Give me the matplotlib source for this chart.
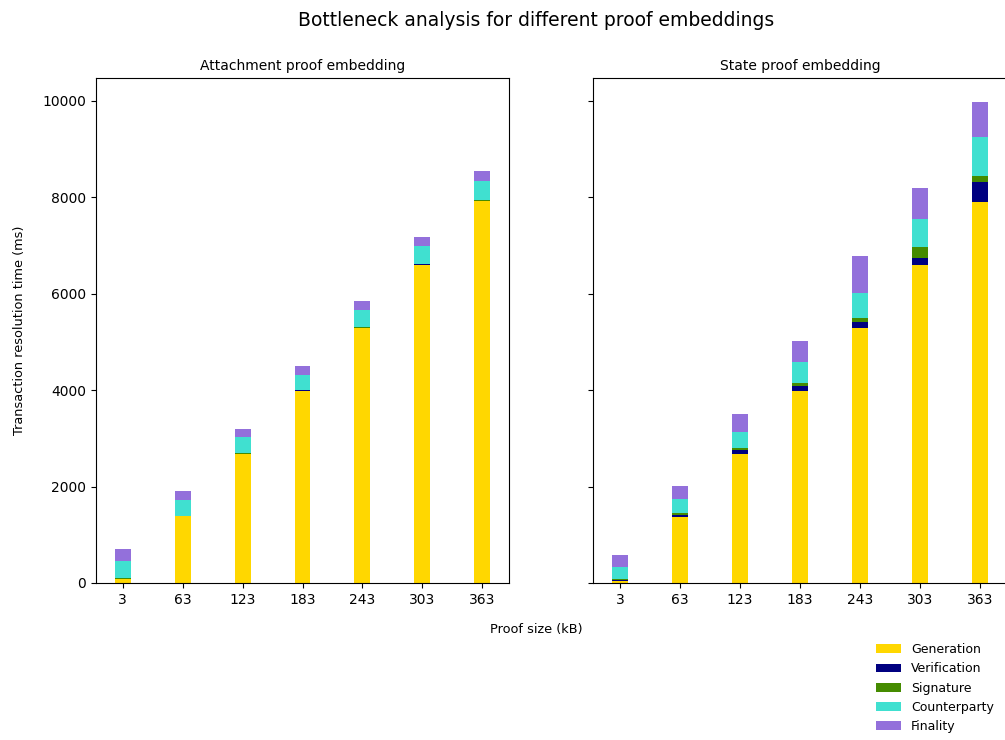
import matplotlib
matplotlib.use("Agg")
import matplotlib.pyplot as plt
import numpy as np

proof_sizes = [3, 63, 123, 183, 243, 303, 363]
stages = ["Generation", "Verification", "Signature", "Counterparty", "Finality"]
colors = ["#FFD700", "#000080", "#458B00", "#40E0D0", "#9370DB"]

# Attachment proof embedding (ms)
att_generation = [80, 1380, 2680, 3990, 5280, 6600, 7920]
att_verification = [5, 5, 5, 15, 15, 10, 10]
att_signature = [10, 12, 5, 5, 5, 5, 5]
att_counterparty = [360, 325, 340, 305, 365, 375, 400]
att_finality = [250, 190, 170, 185, 190, 190, 210]

# State proof embedding (ms)
st_generation = [50, 1375, 2670, 3980, 5290, 6590, 7905]
st_verification = [20, 35, 85, 105, 125, 160, 415]
st_signature = [15, 35, 40, 70, 90, 220, 130]
st_counterparty = [255, 290, 345, 430, 505, 580, 790]
st_finality = [240, 275, 360, 435, 775, 640, 735]

attachment = [att_generation, att_verification, att_signature, att_counterparty, att_finality]
state = [st_generation, st_verification, st_signature, st_counterparty, st_finality]

fig = plt.figure(figsize=(10.05, 7.4), dpi=100)
W, H = 1005, 740
ax1 = fig.add_axes([96 / W, 157 / H, 413 / W, 505 / H])
ax2 = fig.add_axes([593 / W, 157 / H, 414 / W, 505 / H], sharey=ax1)

bar_width = 16
for ax, series, title in [(ax1, attachment, "Attachment proof embedding"),
                          (ax2, state, "State proof embedding")]:
    bottom = np.zeros(len(proof_sizes))
    for name, vals, col in zip(stages, series, colors):
        ax.bar(proof_sizes, vals, width=bar_width, bottom=bottom, color=col, label=name)
        bottom += np.array(vals)
    ax.set_title(title, fontsize=10)
    ax.set_xticks(proof_sizes)

plt.setp(ax2.get_yticklabels(), visible=False)
ax1.set_ylabel("Transaction resolution time (ms)", fontsize=9.3)
ax1.yaxis.set_label_coords((26 - 96) / 413, 0.5)
fig.suptitle("Bottleneck analysis for different proof embeddings", fontsize=13.5,
             x=536 / W, y=0.985)
fig.text(536 / W, 1 - 629 / H, "Proof size (kB)", ha="center", va="center", fontsize=9.3)

handles, labels = ax1.get_legend_handles_labels()
fig.legend(handles, labels, loc="lower right", bbox_to_anchor=(1.0, -0.006),
           frameon=False, fontsize=9)

fig.savefig("out.png", dpi=100)
